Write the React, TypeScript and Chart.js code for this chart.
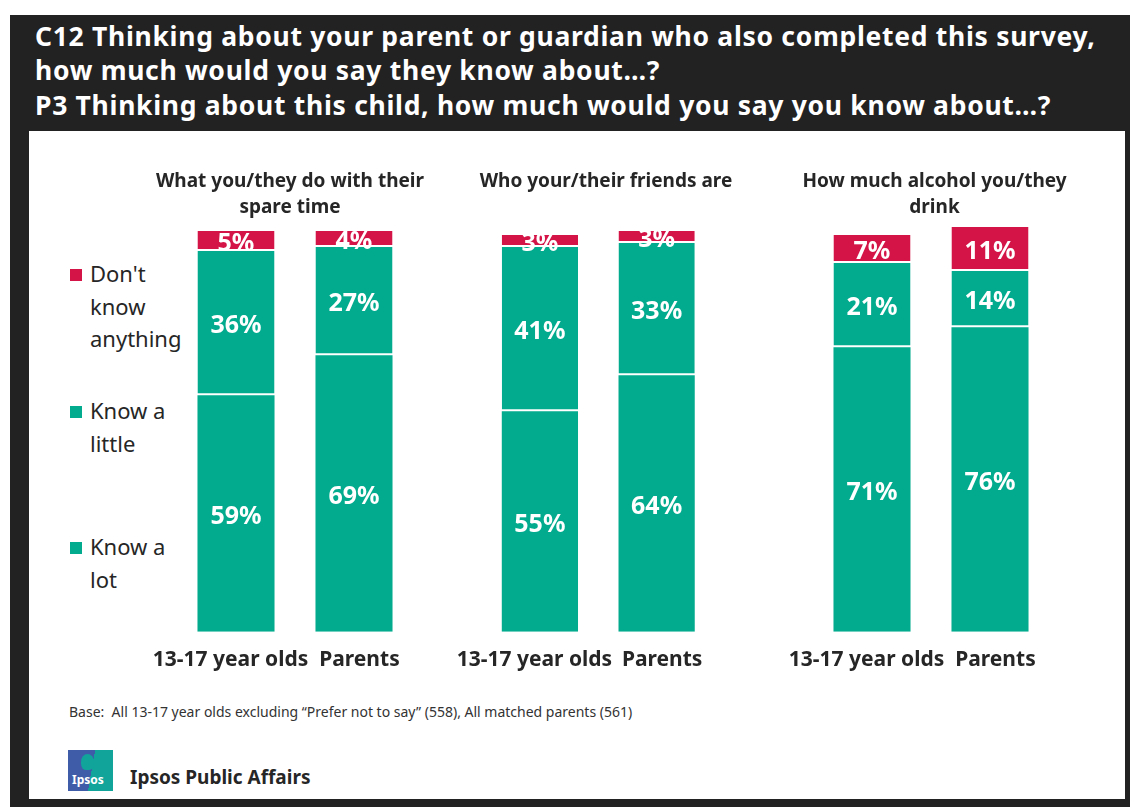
import React, { useEffect, useRef } from "react";
import { Chart, registerables } from "chart.js";

Chart.register(...registerables);

// ---------- data ----------
const CATEGORIES = ["13-17 year olds", "Parents"];
const PANEL_TITLES = [
  ["What you/they do with their", "spare time"],
  ["Who your/their friends are", ""],
  ["How much alcohol you/they", "drink"],
];
const SERIES_NAMES = ["Know a lot", "Know a little", "Don't know anything"];
const KNOW_A_LOT = [
  [59, 69],
  [55, 64],
  [71, 76],
];
const KNOW_A_LITTLE = [
  [36, 27],
  [41, 33],
  [21, 14],
];
const DONT_KNOW = [
  [5, 4],
  [3, 3],
  [7, 11],
];
const Y_MAX = 101;

// ---------- styling ----------
const GREEN = "#02AB8D";
const RED = "#D41347";
const DARK = "#222222";
const TEXT = "#262626";
const FONT = "'Noto Sans', 'Open Sans', sans-serif";

// canvas geometry for each panel
const PANEL_LAYOUT = [
  { left: 112, width: 356, sideL: 65, sideR: 55 },
  { left: 428, width: 356, sideL: 51, sideR: 69 },
  { left: 756, width: 357, sideL: 57, sideR: 64 },
];
const CANVAS_TOP = 160;
const CANVAS_HEIGHT = 529;

const valueLabels = {
  id: "valueLabels",
  afterDatasetsDraw(chart: any) {
    const ctx = chart.ctx;
    ctx.save();
    ctx.fillStyle = "#ffffff";
    ctx.font = `bold 25px ${FONT}`;
    ctx.textAlign = "center";
    ctx.textBaseline = "middle";
    chart.data.datasets.forEach((ds: any, di: number) => {
      const meta = chart.getDatasetMeta(di);
      meta.data.forEach((el: any, i: number) => {
        const p = el.getProps(["x", "y", "base"], true);
        const v = ds.data[i];
        ctx.fillText(`${v}%`, p.x, (p.y + p.base) / 2 + 3);
      });
    });
    ctx.restore();
  },
};

function makeChart(canvas: HTMLCanvasElement, idx: number) {
  const lay = PANEL_LAYOUT[idx];
  const sepBorder = { top: 0, left: 0, right: 0, bottom: 2 };
  const hiddenAxis = (w: number, pos: string) => ({
    position: pos,
    stacked: true,
    min: 0,
    max: Y_MAX,
    grid: { display: false, drawTicks: false },
    border: { display: false },
    ticks: { display: false },
    afterFit: (s: any) => {
      s.width = w;
    },
  });
  return new Chart(canvas, {
    type: "bar",
    data: {
      labels: CATEGORIES,
      datasets: [
        {
          label: SERIES_NAMES[0],
          data: KNOW_A_LOT[idx],
          backgroundColor: GREEN,
          borderWidth: 0,
        },
        {
          label: SERIES_NAMES[1],
          data: KNOW_A_LITTLE[idx],
          backgroundColor: GREEN,
          borderColor: "#ffffff",
          borderWidth: sepBorder,
          borderSkipped: false,
        },
        {
          label: SERIES_NAMES[2],
          data: DONT_KNOW[idx],
          backgroundColor: RED,
          borderColor: "#ffffff",
          borderWidth: sepBorder,
          borderSkipped: false,
        },
      ],
    },
    options: {
      animation: false,
      responsive: false,
      maintainAspectRatio: false,
      layout: { padding: { top: 9, bottom: 0, left: 0, right: 0 } },
      datasets: { bar: { categoryPercentage: 1, barPercentage: 0.653 } },
      plugins: {
        legend: { display: false },
        tooltip: { enabled: false },
        title: {
          display: true,
          text: PANEL_TITLES[idx],
          color: TEXT,
          font: { family: FONT, size: 19, weight: "bold", lineHeight: 26 / 19 },
          padding: { top: 0, bottom: 6 },
        },
      },
      scales: {
        x: {
          stacked: true,
          grid: { display: false, drawTicks: false },
          border: { display: false },
          ticks: {
            color: TEXT,
            font: { family: FONT, size: 21, weight: "bold" },
            padding: 16,
            maxRotation: 0,
            minRotation: 0,
            autoSkip: false,
            // nudge the two labels apart a little, as in the original
            callback: (_v: any, i: number) =>
              i === 0 ? CATEGORIES[i] + "\u0020\u0020" : "\u0020\u0020" + CATEGORIES[i],
          },
        },
        y: hiddenAxis(lay.sideL, "left"),
        yRight: hiddenAxis(lay.sideR, "right"),
      },
    } as any,
    plugins: [valueLabels],
  });
}

function LegendItem({ top, color, lines }: { top: number; color: string; lines: string[] }) {
  return (
    <div style={{ position: "absolute", left: 70, top, width: 130 }}>
      <div
        style={{
          position: "absolute",
          left: 0,
          top: 12,
          width: 12,
          height: 12,
          background: color,
        }}
      />
      <div
        style={{
          position: "absolute",
          left: 20,
          top: 0,
          fontFamily: FONT,
          fontSize: 22,
          lineHeight: "32.5px",
          color: TEXT,
          whiteSpace: "nowrap",
        }}
      >
        {lines.map((l, i) => (
          <div key={i}>{l}</div>
        ))}
      </div>
    </div>
  );
}

export default function App() {
  const refs = [
    useRef<HTMLCanvasElement>(null),
    useRef<HTMLCanvasElement>(null),
    useRef<HTMLCanvasElement>(null),
  ];

  useEffect(() => {
    const charts = refs.map((r, i) => makeChart(r.current as HTMLCanvasElement, i));
    return () => charts.forEach((c) => c.destroy());
  }, []);

  return (
    <div
      style={{
        position: "absolute",
        left: 0,
        top: 0,
        width: 1130,
        height: 807,
        background: "#ffffff",
        overflow: "hidden",
      }}
    >
      {/* dark frame */}
      <div
        style={{
          position: "absolute",
          left: 10,
          top: 15,
          width: 1120,
          height: 792,
          background: DARK,
        }}
      />
      {/* white panel */}
      <div
        style={{
          position: "absolute",
          left: 29,
          top: 131,
          width: 1096,
          height: 668,
          background: "#ffffff",
        }}
      />
      {/* main title */}
      <div
        style={{
          position: "absolute",
          left: 35,
          top: 18.5,
          fontFamily: FONT,
          fontWeight: "bold",
          fontSize: 26.5,
          letterSpacing: "0.7px",
          lineHeight: "34.5px",
          color: "#ffffff",
          whiteSpace: "nowrap",
        }}
      >
        <div>C12 Thinking about your parent or guardian who also completed this survey,</div>
        <div>how much would you say they know about…?</div>
        <div>P3 Thinking about this child, how much would you say you know about…?</div>
      </div>

      {/* legend */}
      <LegendItem top={257} color={RED} lines={["Don't", "know", "anything"]} />
      <LegendItem top={394} color={GREEN} lines={["Know a", "little"]} />
      <LegendItem top={530} color={GREEN} lines={["Know a", "lot"]} />

      {PANEL_LAYOUT.map((p, i) => (
        <canvas
          key={i}
          ref={refs[i]}
          width={p.width}
          height={CANVAS_HEIGHT}
          style={{
            position: "absolute",
            left: p.left,
            top: CANVAS_TOP,
            width: p.width,
            height: CANVAS_HEIGHT,
          }}
        />
      ))}

      {/* base note */}
      <div
        style={{
          position: "absolute",
          left: 69,
          top: 703,
          fontFamily: FONT,
          fontSize: 14,
          lineHeight: "18px",
          color: "#333333",
          whiteSpace: "nowrap",
        }}
      >
        Base:&nbsp; All 13-17 year olds excluding “Prefer not to say” (558), All matched parents (561)
      </div>

      {/* logo */}
      <div
        style={{
          position: "absolute",
          left: 68,
          top: 750,
          width: 45,
          height: 41,
          background: "linear-gradient(100deg, #3F5CA9 0%, #3F5CA9 52%, #10A49B 52%, #10A49B 100%)",
          overflow: "hidden",
        }}
      >
        <div
          style={{
            position: "absolute",
            left: 13,
            top: 4,
            width: 13,
            height: 16,
            borderRadius: "50% 50% 40% 40%",
            background: "#10A49B",
          }}
        />
        <div
          style={{
            position: "absolute",
            left: 4,
            top: 23,
            fontFamily: FONT,
            fontSize: 12,
            fontWeight: "bold",
            lineHeight: "14px",
            color: "#ffffff",
          }}
        >
          Ipsos
        </div>
      </div>
      <div
        style={{
          position: "absolute",
          left: 130,
          top: 765,
          fontFamily: FONT,
          fontWeight: "bold",
          fontSize: 19,
          lineHeight: "24px",
          color: TEXT,
          whiteSpace: "nowrap",
        }}
      >
        Ipsos Public Affairs
      </div>
    </div>
  );
}
